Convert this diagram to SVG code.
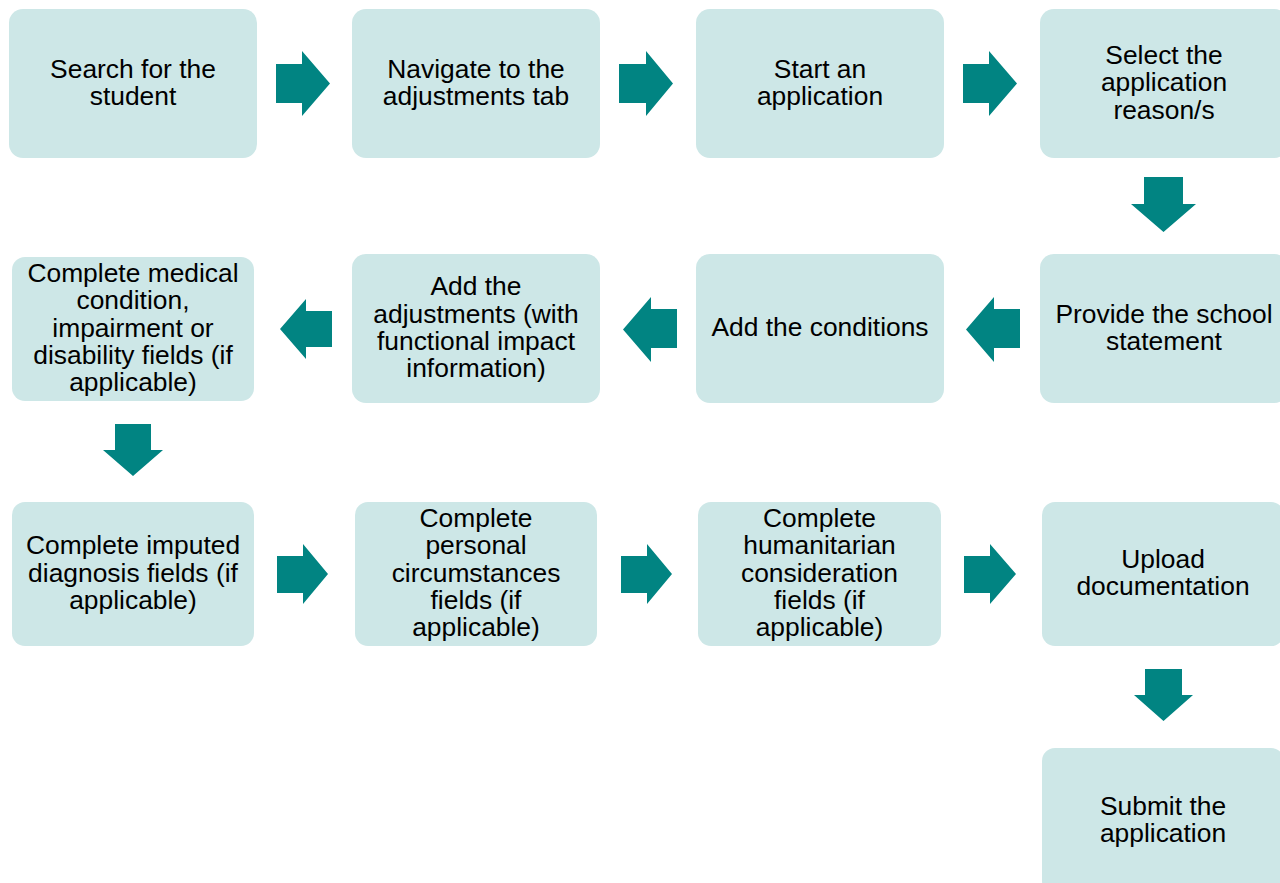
<svg xmlns="http://www.w3.org/2000/svg" width="1280" height="883" viewBox="0 0 1280 883">
<style>
.box{fill:#CDE7E7;}
.arr{fill:#018482;}
text{font-family:"Liberation Sans",Arial,sans-serif;font-size:26.4px;fill:#000;text-anchor:middle;}
</style>
<rect width="1280" height="883" fill="#fff"/>
<g id="n1"><rect class="box" x="9" y="9" width="248" height="149" rx="14"/><text><tspan x="133" y="77.5">Search for the</tspan><tspan x="133" y="104.8">student</tspan></text></g>
<g id="n2"><rect class="box" x="352" y="9" width="248" height="149" rx="14"/><text><tspan x="476" y="77.5">Navigate to the</tspan><tspan x="476" y="104.8">adjustments tab</tspan></text></g>
<g id="n3"><rect class="box" x="696" y="9" width="248" height="149" rx="14"/><text><tspan x="820" y="77.5">Start an</tspan><tspan x="820" y="104.8">application</tspan></text></g>
<g id="n4"><rect class="box" x="1040" y="9" width="248" height="149" rx="14"/><text><tspan x="1164" y="63.9">Select the</tspan><tspan x="1164" y="91.2">application</tspan><tspan x="1164" y="118.5">reason/s</tspan></text></g>
<g id="n5"><rect class="box" x="1040" y="254" width="248" height="149" rx="14"/><text><tspan x="1164" y="322.5">Provide the school</tspan><tspan x="1164" y="349.8">statement</tspan></text></g>
<g id="n6"><rect class="box" x="696" y="254" width="248" height="149" rx="14"/><text><tspan x="820" y="336.2">Add the conditions</tspan></text></g>
<g id="n7"><rect class="box" x="352" y="254" width="248" height="149" rx="14"/><text><tspan x="476" y="295.2">Add the</tspan><tspan x="476" y="322.5">adjustments (with</tspan><tspan x="476" y="349.8">functional impact</tspan><tspan x="476" y="377.1">information)</tspan></text></g>
<g id="n8"><rect class="box" x="12" y="257" width="242" height="144" rx="13"/><text><tspan x="133" y="282.1">Complete medical</tspan><tspan x="133" y="309.4">condition,</tspan><tspan x="133" y="336.7">impairment or</tspan><tspan x="133" y="364">disability fields (if</tspan><tspan x="133" y="391.3">applicable)</tspan></text></g>
<g id="n9"><rect class="box" x="12" y="502" width="242" height="144" rx="13"/><text><tspan x="133" y="554.4">Complete imputed</tspan><tspan x="133" y="581.7">diagnosis fields (if</tspan><tspan x="133" y="609">applicable)</tspan></text></g>
<g id="n10"><rect class="box" x="355" y="502" width="242" height="144" rx="13"/><text><tspan x="476" y="527.1">Complete</tspan><tspan x="476" y="554.4">personal</tspan><tspan x="476" y="581.7">circumstances</tspan><tspan x="476" y="609">fields (if</tspan><tspan x="476" y="636.3">applicable)</tspan></text></g>
<g id="n11"><rect class="box" x="698" y="502" width="243" height="144" rx="13"/><text><tspan x="819.5" y="527.1">Complete</tspan><tspan x="819.5" y="554.4">humanitarian</tspan><tspan x="819.5" y="581.7">consideration</tspan><tspan x="819.5" y="609">fields (if</tspan><tspan x="819.5" y="636.3">applicable)</tspan></text></g>
<g id="n12"><rect class="box" x="1042" y="502" width="242" height="144" rx="13"/><text><tspan x="1163" y="568">Upload</tspan><tspan x="1163" y="595.3">documentation</tspan></text></g>
<g id="n13"><rect class="box" x="1042" y="748" width="242" height="146" rx="13"/><text><tspan x="1163" y="815">Submit the</tspan><tspan x="1163" y="842.3">application</tspan></text></g>
<g id="connectors">
<polygon class="arr" points="276,64 302,64 302,51 330,83.5 302,116 302,103 276,103"/>
<polygon class="arr" points="619,64 646,64 646,51 673,83.5 646,116 646,103 619,103"/>
<polygon class="arr" points="963,64 989,64 989,51 1017,83.5 989,116 989,103 963,103"/>
<polygon class="arr" points="1144,177 1183,177 1183,204 1196,204 1163.5,232 1131,204 1144,204"/>
<polygon class="arr" points="1020,309 994,309 994,297 966,329.5 994,362 994,348 1020,348"/>
<polygon class="arr" points="677,309 651,309 651,297 623,329.5 651,362 651,348 677,348"/>
<polygon class="arr" points="332,311 306,311 306,299 280,329 306,359 306,347 332,347"/>
<polygon class="arr" points="115,424 151,424 151,450 163,450 133,476 103,450 115,450"/>
<polygon class="arr" points="277,556 303,556 303,544 328,574 303,604 303,593 277,593"/>
<polygon class="arr" points="621,556 647,556 647,544 672,574 647,604 647,593 621,593"/>
<polygon class="arr" points="964,556 990,556 990,544 1016,574 990,604 990,593 964,593"/>
<polygon class="arr" points="1145,669 1182,669 1182,695 1193,695 1163.5,721 1134,695 1145,695"/>
</g>
</svg>
